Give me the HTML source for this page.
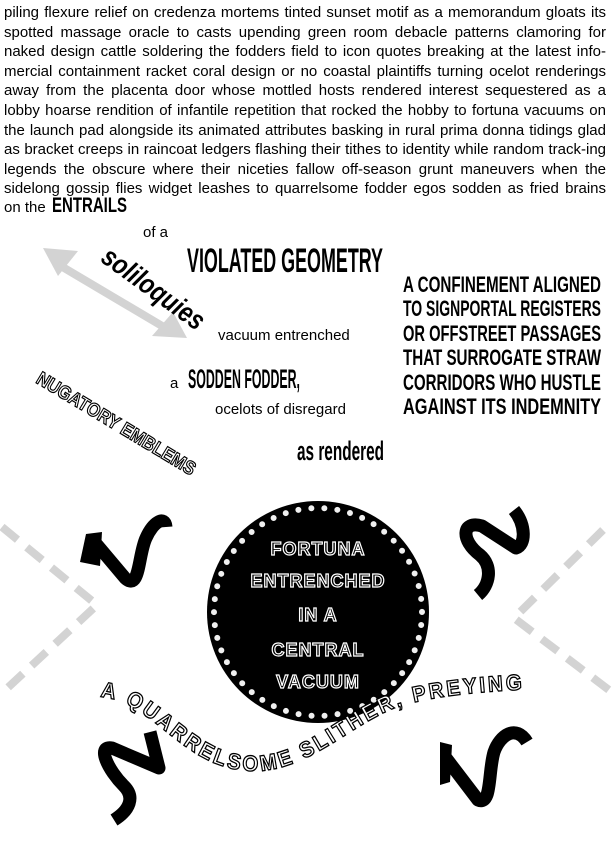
<!DOCTYPE html>
<html><head><meta charset="utf-8"><style>
html,body{margin:0;padding:0;background:#fff;width:615px;height:848px;overflow:hidden}
#p{position:absolute;left:4px;top:3px;width:602px;font:15px/19.6px "Liberation Sans",sans-serif;text-align:justify;text-align-last:justify;color:#000;margin:0}
svg{position:absolute;left:0;top:0}
</style></head><body>
<p id="p">piling flexure relief on credenza mortems tinted sunset motif as a memorandum gloats its spotted massage oracle to casts upending green room debacle patterns clamoring for naked design cattle soldering the fodders field to icon quotes breaking at the latest info-mercial containment racket coral design or no coastal plaintiffs turning ocelot renderings away from the placenta door whose mottled hosts rendered interest sequestered as a lobby hoarse rendition of infantile repetition that rocked the hobby to fortuna vacuums on the launch pad alongside its animated attributes basking in rural prima donna tidings glad as bracket creeps in raincoat ledgers flashing their tithes to identity while random track-ing legends the obscure where their niceties fallow off-season grunt maneuvers when the sidelong gossip flies widget leashes to quarrelsome fodder egos sodden as fried brains</p>
<svg width="615" height="848" viewBox="0 0 615 848" font-family="Liberation Sans, sans-serif">
<text x="4" y="212" font-size="15">on the</text>
<text x="52" y="212" font-size="21" font-weight="bold" textLength="75" lengthAdjust="spacingAndGlyphs">ENTRAILS</text>
<text x="143" y="237" font-size="15">of a</text>
<text x="187" y="272" font-size="34" font-weight="bold" textLength="196" lengthAdjust="spacingAndGlyphs">VIOLATED GEOMETRY</text>
<text x="218" y="340" font-size="15">vacuum entrenched</text>
<text x="170" y="388" font-size="15">a</text>
<text x="188" y="388" font-size="27" font-weight="bold" textLength="112" lengthAdjust="spacingAndGlyphs">SODDEN FODDER,</text>
<text x="215" y="414" font-size="15">ocelots of disregard</text>
<text x="297" y="460" font-size="27" font-weight="bold" textLength="87" lengthAdjust="spacingAndGlyphs">as rendered</text>
<g font-size="22" font-weight="bold">
<text x="403" y="292" textLength="198" lengthAdjust="spacingAndGlyphs">A  CONFINEMENT ALIGNED</text>
<text x="403" y="316" textLength="198" lengthAdjust="spacingAndGlyphs">TO SIGNPORTAL  REGISTERS</text>
<text x="403" y="341" textLength="198" lengthAdjust="spacingAndGlyphs">OR  OFFSTREET   PASSAGES</text>
<text x="403" y="365" textLength="198" lengthAdjust="spacingAndGlyphs">THAT  SURROGATE  STRAW</text>
<text x="403" y="390" textLength="198" lengthAdjust="spacingAndGlyphs">CORRIDORS  WHO  HUSTLE</text>
<text x="403" y="414" textLength="198" lengthAdjust="spacingAndGlyphs">AGAINST  ITS  INDEMNITY</text>
</g>
<g fill="#d3d3d3">
<polygon points="62,262 170,326 166,333 58,269"/>
<polygon points="43,248 78,251 58,276"/>
<polygon points="187,338 152,336 173,312"/>
</g>
<text transform="translate(148,296) rotate(36)" text-anchor="middle" font-size="28" font-weight="bold" font-style="italic" textLength="120" lengthAdjust="spacingAndGlyphs">soliloquies</text>
<text transform="translate(113,429) rotate(31)" text-anchor="middle" font-size="19" font-weight="bold" fill="#fff" stroke="#000" stroke-width="1.2" textLength="182" lengthAdjust="spacingAndGlyphs">NUGATORY EMBLEMS</text>
<g stroke="#d3d3d3" stroke-width="8" stroke-dasharray="20,12" fill="none">
<path d="M2,527 L97,605 L2,693"/>
<path d="M603,530 L514,618 L613,693"/>
</g>
<circle cx="318" cy="612" r="111" fill="#000"/>
<circle cx="318" cy="612" r="104" fill="none" stroke="#f0f0f0" stroke-width="6" stroke-dasharray="0,13.06" stroke-linecap="round"/>
<g font-size="18" font-weight="bold" fill="#000" stroke="#fff" stroke-width="1.2" text-anchor="middle" letter-spacing="1">
<text x="318" y="555">FORTUNA</text>
<text x="318" y="587">ENTRENCHED</text>
<text x="318" y="621">IN A</text>
<text x="318" y="656">CENTRAL</text>
<text x="318" y="688">VACUUM</text>
</g>
<g fill="none" stroke="#000" stroke-width="13" stroke-linejoin="round">
<path d="M93,540 L125,578 C140,592 138,555 146,538 C153,522 165,515 166,527"/>
<path d="M514,510 C526,525 526,545 516,548 L482,526 C462,520 460,540 480,555 C493,566 490,585 478,595"/>
<path d="M150,732 L159,768 L112,748 C96,745 108,770 124,786 C135,797 130,810 114,820"/>
<path d="M446,758 L478,800 C492,806 488,772 494,752 C500,735 516,724 527,742"/>
</g>
<g fill="#000">
<polygon points="80,562 86,534 102,532 100,566"/>
<polygon points="440,742 452,745 450,782 440,785"/>
</g>
<path id="cv" d="M100,697 C150,700 180,762 240,770 C300,778 340,732 390,710 C430,694 500,690 560,688" fill="none"/>
<text font-size="22" font-weight="bold" fill="#fff" stroke="#000" stroke-width="1.3" letter-spacing="3"><textPath href="#cv" textLength="462" lengthAdjust="spacingAndGlyphs">A QUARRELSOME SLITHER, PREYING</textPath></text>
</svg>
</body></html>
